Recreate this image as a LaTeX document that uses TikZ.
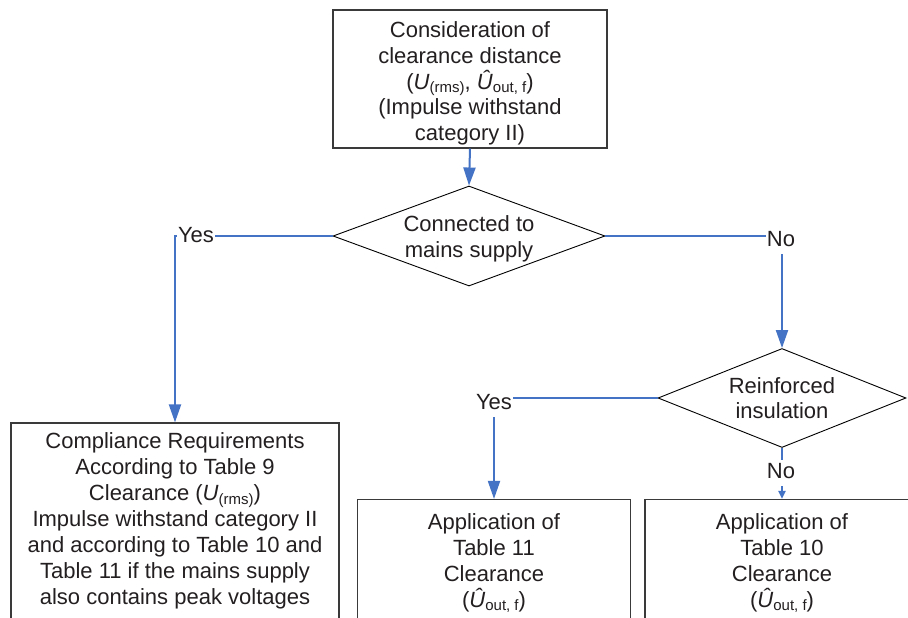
\documentclass[tikz,border=0pt]{standalone}
\usepackage{fontspec}
\setmainfont{Liberation Sans}
\usetikzlibrary{shapes.geometric,arrows.meta}
\definecolor{connc}{HTML}{4472C4}
\definecolor{txtc}{HTML}{231F20}
\definecolor{boxc}{HTML}{3A3A3A}
\newcommand{\lowsub}[1]{\raisebox{-0.16em}{\fontsize{15}{15}\selectfont #1}}
\begin{document}
\begin{tikzpicture}[x=1pt,y=-1pt,
  box/.style={draw=boxc, line width=1.2pt, fill=white, align=center, text=txtc,
    font=\fontsize{22}{26}\selectfont, inner sep=0pt},
  boxtext/.style={align=center, text=txtc, font=\fontsize{22}{25.8}\selectfont, inner sep=0pt},
  dia/.style={diamond, draw=black, line width=0.9pt, fill=white, align=center, text=txtc,
    font=\fontsize{22}{25.5}\selectfont, inner sep=0pt, aspect=2.7},
  conn/.style={draw=connc, line width=2pt, -{Triangle[width=12pt,length=18pt]}},
  connsmall/.style={draw=connc, line width=2pt, -{Triangle[width=7pt,length=8pt]}},
  lab/.style={fill=white, text=txtc, font=\fontsize{22}{26}\selectfont,
    text height=16pt, text depth=6pt, inner xsep=1pt, inner ysep=2pt, anchor=base}]
\clip (0,0) rectangle (908,618);
\fill[white] (0,0) rectangle (908,618);

\node[box, minimum width=274pt, minimum height=138pt] (top) at (470,79) {};
\node[boxtext] (toptext) at (470,83.5)
  {Consideration of\\clearance distance\\(\textit{U}\lowsub{(rms)}, \textit{Û}\lowsub{out, f})\\(Impulse withstand\\category II)};
\node[dia, minimum width=272pt, minimum height=100pt] (d1) at (469,236) {};
\node[boxtext] (d1text) at (469,239) {Connected to\\mains supply};
\node[dia, minimum width=248pt, minimum height=99pt] (d2) at (782,398) {Reinforced\\insulation};
\node[box, minimum width=328pt, minimum height=196pt] (L) at (175,521)
  {Compliance Requirements\\According to Table 9\\Clearance (\textit{U}\lowsub{(rms)})\\Impulse withstand category II\\and according to Table 10 and\\Table 11 if the mains supply\\also contains peak voltages};
\node[box, minimum width=273pt, minimum height=127pt] (M) at (494,563)
  {Application of\\Table 11\\Clearance\\(\textit{Û}\lowsub{out, f})};
\node[box, minimum width=274pt, minimum height=127pt] (R) at (782,563)
  {Application of\\Table 10\\Clearance\\(\textit{Û}\lowsub{out, f})};

\draw[conn] (top.south) -- (d1.north);
\draw[conn] (d1.west) -| (L.north);
\draw[conn] (d1.east) -| (d2.north);
\draw[conn] (d2.west) -| (M.north);
\draw[connsmall] (d2.south) -- (R.north);

\node[lab] (y1) at (196,242) {Yes};
\node[lab] (n1) at (781,246) {No};
\node[lab] (y2) at (494,409) {Yes};
\node[lab] (n2) at (781,478) {No};
\end{tikzpicture}
\end{document}
